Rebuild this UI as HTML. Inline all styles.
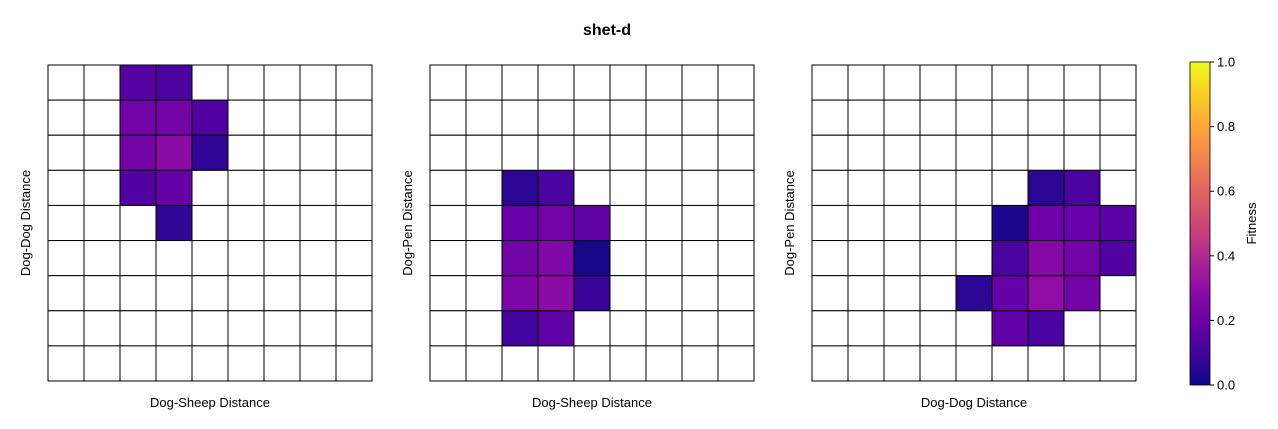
<!DOCTYPE html>
<html><head><meta charset="utf-8"><style>body{margin:0;background:#fff}svg{display:block;font-family:"Liberation Sans",sans-serif}</style></head>
<body>
<svg id="c" width="1278" height="429">
<text x="607" y="35" text-anchor="middle" font-size="16" font-weight="bold">shet-d</text>
</svg>
<script>
const gridSize = 9;
const panel1Cells = [[0,2,0.15],[0,3,0.13],[1,2,0.22],[1,3,0.22],[1,4,0.14],[2,2,0.23],[2,3,0.29],[2,4,0.07],[3,2,0.14],[3,3,0.19],[4,3,0.07]];
const panel2Cells = [[3,2,0.06],[3,3,0.12],[4,2,0.2],[4,3,0.22],[4,4,0.17],[5,2,0.22],[5,3,0.26],[5,4,0.02],[6,2,0.25],[6,3,0.29],[6,4,0.08],[7,2,0.1],[7,3,0.17]];
const panel3Cells = [[3,6,0.06],[3,7,0.12],[4,5,0.03],[4,6,0.21],[4,7,0.2],[4,8,0.16],[5,5,0.12],[5,6,0.27],[5,7,0.22],[5,8,0.14],[6,4,0.06],[6,5,0.19],[6,6,0.3],[6,7,0.22],[7,5,0.18],[7,6,0.12]];
const panelXLabels = ["Dog-Sheep Distance","Dog-Sheep Distance","Dog-Dog Distance"];
const panelYLabels = ["Dog-Dog Distance","Dog-Pen Distance","Dog-Pen Distance"];
const cbTicks = [0,0.2,0.4,0.6,0.8,1.0];
const plasma=[[13,8,135],[65,4,157],[106,0,168],[143,13,164],[177,42,144],[204,71,120],[225,100,98],[242,132,75],[252,166,54],[252,206,37],[240,249,33]];
function cmap(v){v=Math.max(0,Math.min(1,v))*10;const i=Math.min(9,Math.floor(v)),f=v-i,a=plasma[i],b=plasma[i+1];return `rgb(${a.map((x,k)=>Math.round(x+(b[k]-x)*f)).join(',')})`;}
const svg=document.getElementById('c'),NS='http://www.w3.org/2000/svg';
function el(t,at,p){const e=document.createElementNS(NS,t);for(const k in at)e.setAttribute(k,at[k]);(p||svg).appendChild(e);return e;}
const lefts=[48,430,812],top0=65,W=324,H=316;
[panel1Cells,panel2Cells,panel3Cells].forEach((cells,p)=>{
  const g=el('g',{});
  
  
  const cw=W/gridSize,ch=H/gridSize,x0=lefts[p];
  const xs=c=>x0+c*cw, ys=r=>top0+r*ch;
  const filled={};cells.forEach(c=>filled[c[0]+','+c[1]]=c[2]);
  for(let r=0;r<gridSize;r++)for(let c=0;c<gridSize;c++){
    const v=filled[r+','+c];
    const rc=el('rect',{x:xs(c),y:ys(r),width:cw,height:ch,fill:v===undefined?'#fff':cmap(v),stroke:'#000','stroke-width':1},g);
    
    
  }
  const xl=el('text',{x:x0+W/2,y:407,'text-anchor':'middle','font-size':13},g);xl.textContent=panelXLabels[p];
  
  
  const yl=el('text',{x:0,y:0,'text-anchor':'middle','font-size':13,transform:`translate(${x0-18},${top0+H/2}) rotate(-90)`},g);yl.textContent=panelYLabels[p];
  
  
});
// colorbar
const cbx=1190,cby=62,cbw=20,cbh=323;
const defs=el('defs',{});const lg=el('linearGradient',{id:'pl',x1:0,y1:1,x2:0,y2:0},defs);
plasma.forEach((c,i)=>el('stop',{offset:i/10,'stop-color':`rgb(${c})`},lg));
const cb=el('rect',{x:cbx,y:cby,width:cbw,height:cbh,fill:'url(#pl)',stroke:'#000','stroke-width':0.8});


cbTicks.forEach(t=>{const y=cby+cbh*(1-t);
  el('line',{x1:cbx+cbw,x2:cbx+cbw+4,y1:y,y2:y,stroke:'#000'});
  const tx=el('text',{x:cbx+cbw+7,y:y+4.5,'font-size':13});tx.textContent=t.toFixed(1);
  
  });
const ct=el('text',{x:0,y:0,'text-anchor':'middle','font-size':13,transform:`translate(1256,${cby+cbh/2}) rotate(-90)`});ct.textContent='Fitness';


</script>
</body></html>
